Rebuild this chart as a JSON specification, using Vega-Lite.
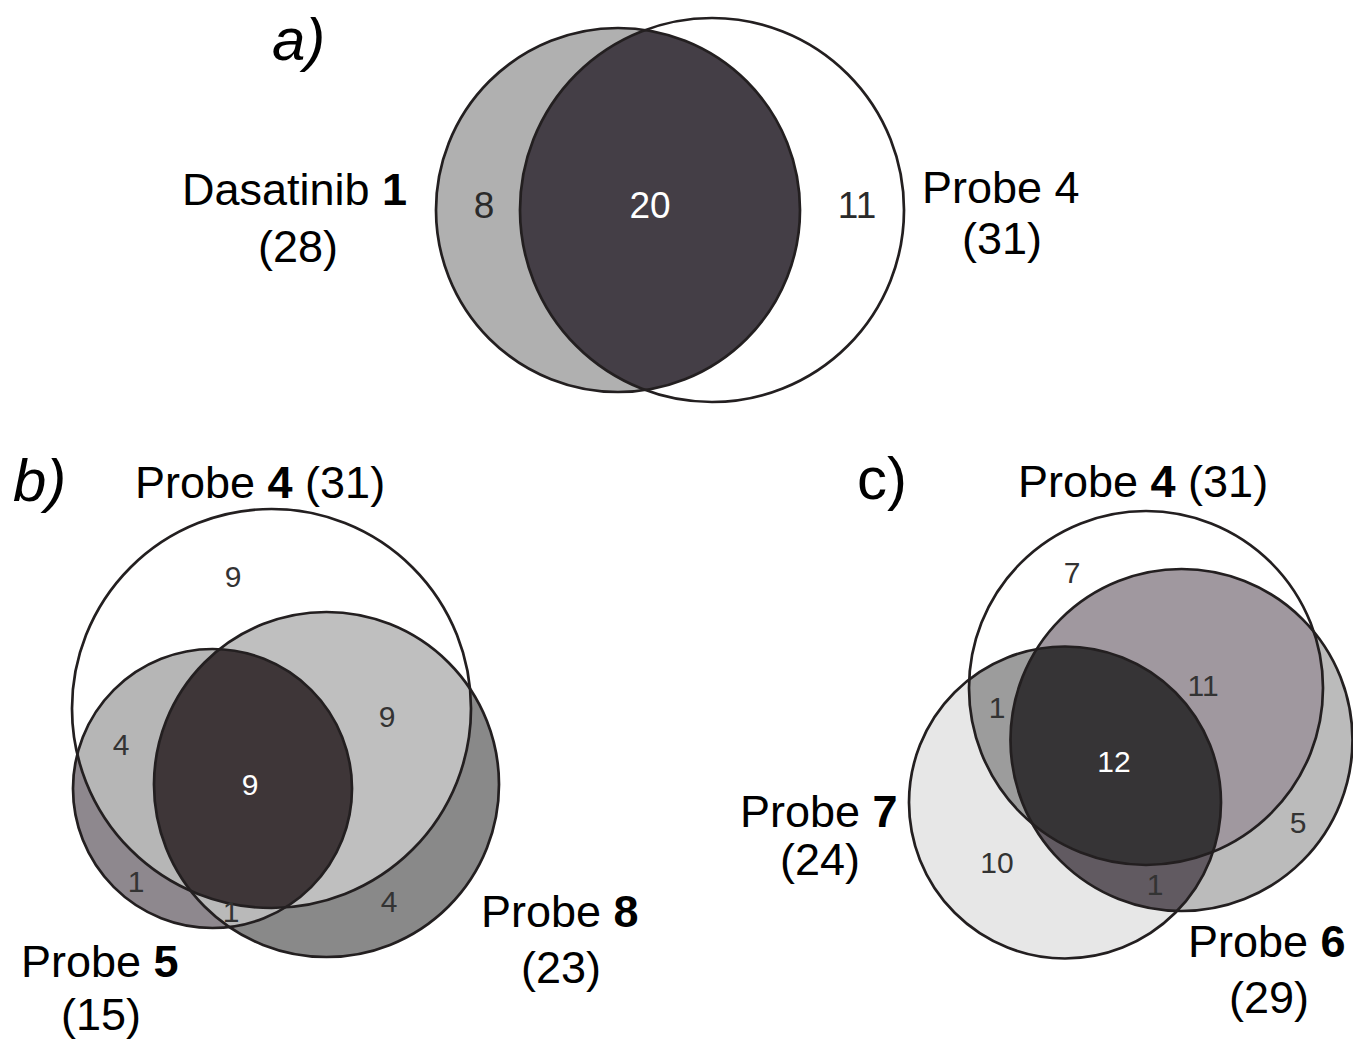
{
  "$schema": "https://vega.github.io/schema/vega-lite/v6.json",
  "width": 1353,
  "height": 1042,
  "padding": 0,
  "autosize": {"type": "none"},
  "background": "white",
  "config": {"view": {"stroke": null}},
  "datasets": {
    "circles": [
      {"panel": "a", "key": "a1", "set": "Dasatinib 1", "x": 618, "y": 210, "d": 364},
      {"panel": "a", "key": "a2", "set": "Probe 4", "x": 712, "y": 210, "d": 384},
      {"panel": "b", "key": "b4", "set": "Probe 4", "x": 271.5, "y": 708.5, "d": 399},
      {"panel": "b", "key": "b5", "set": "Probe 5", "x": 212.5, "y": 788.5, "d": 279},
      {"panel": "b", "key": "b8", "set": "Probe 8", "x": 326.5, "y": 784.5, "d": 345},
      {"panel": "c", "key": "c4", "set": "Probe 4", "x": 1146, "y": 688, "d": 354},
      {"panel": "c", "key": "c6", "set": "Probe 6", "x": 1181.5, "y": 740, "d": 342},
      {"panel": "c", "key": "c7", "set": "Probe 7", "x": 1065, "y": 802.5, "d": 312}
    ],
    "counts": [
      {"panel": "a", "region": "1 only", "n": 8, "x": 484, "y": 218},
      {"panel": "a", "region": "1∩4", "n": 20, "x": 650, "y": 218},
      {"panel": "a", "region": "4 only", "n": 11, "x": 857, "y": 218},
      {"panel": "b", "region": "4 only", "n": 9, "x": 233, "y": 587},
      {"panel": "b", "region": "4∩5", "n": 4, "x": 121, "y": 755},
      {"panel": "b", "region": "4∩8", "n": 9, "x": 387, "y": 727},
      {"panel": "b", "region": "4∩5∩8", "n": 9, "x": 250, "y": 795},
      {"panel": "b", "region": "5 only", "n": 1, "x": 136, "y": 892},
      {"panel": "b", "region": "5∩8", "n": 1, "x": 231, "y": 922},
      {"panel": "b", "region": "8 only", "n": 4, "x": 389, "y": 912},
      {"panel": "c", "region": "4 only", "n": 7, "x": 1072, "y": 583},
      {"panel": "c", "region": "4∩6", "n": 11, "x": 1203, "y": 696},
      {"panel": "c", "region": "4∩7", "n": 1, "x": 997, "y": 718},
      {"panel": "c", "region": "4∩6∩7", "n": 12, "x": 1114, "y": 772},
      {"panel": "c", "region": "6 only", "n": 5, "x": 1298, "y": 833},
      {"panel": "c", "region": "7 only", "n": 10, "x": 997, "y": 873},
      {"panel": "c", "region": "6∩7", "n": 1, "x": 1155, "y": 895}
    ],
    "labels": [
      {"panel": "a", "part": "letter", "text": "a)", "x": 272, "y": 60},
      {"panel": "b", "part": "letter", "text": "b)", "x": 13, "y": 501},
      {"panel": "c", "part": "letter", "text": "c)", "x": 857, "y": 499},
      {"panel": "a", "part": "name", "text": "Dasatinib", "x": 182, "y": 205},
      {"panel": "a", "part": "id", "text": "1", "x": 382.1, "y": 205},
      {"panel": "a", "part": "total", "text": "(28)", "x": 298, "y": 262},
      {"panel": "a", "part": "name", "text": "Probe 4", "x": 922, "y": 203},
      {"panel": "a", "part": "total", "text": "(31)", "x": 1002, "y": 254},
      {"panel": "b", "part": "name", "text": "Probe", "x": 135, "y": 498},
      {"panel": "b", "part": "id", "text": "4", "x": 267.6, "y": 498},
      {"panel": "b", "part": "name", "text": "(31)", "x": 305.1, "y": 498},
      {"panel": "b", "part": "name", "text": "Probe", "x": 481, "y": 927},
      {"panel": "b", "part": "id", "text": "8", "x": 613.6, "y": 927},
      {"panel": "b", "part": "total", "text": "(23)", "x": 561, "y": 983},
      {"panel": "b", "part": "name", "text": "Probe", "x": 21, "y": 977},
      {"panel": "b", "part": "id", "text": "5", "x": 153.6, "y": 977},
      {"panel": "b", "part": "total", "text": "(15)", "x": 101, "y": 1030},
      {"panel": "c", "part": "name", "text": "Probe", "x": 1018, "y": 497},
      {"panel": "c", "part": "id", "text": "4", "x": 1150.6, "y": 497},
      {"panel": "c", "part": "name", "text": "(31)", "x": 1188.1, "y": 497},
      {"panel": "c", "part": "name", "text": "Probe", "x": 740, "y": 827},
      {"panel": "c", "part": "id", "text": "7", "x": 872.6, "y": 827},
      {"panel": "c", "part": "total", "text": "(24)", "x": 820, "y": 875},
      {"panel": "c", "part": "name", "text": "Probe", "x": 1188, "y": 957},
      {"panel": "c", "part": "id", "text": "6", "x": 1320.6, "y": 957},
      {"panel": "c", "part": "total", "text": "(29)", "x": 1269, "y": 1013}
    ]
  },
  "encoding": {
    "x": {"field": "x", "type": "quantitative", "scale": {"domain": [0, 1353], "nice": false, "zero": false}, "axis": null},
    "y": {"field": "y", "type": "quantitative", "scale": {"domain": [0, 1042], "nice": false, "zero": false, "reverse": true}, "axis": null}
  },
  "layer": [
    {
      "data": {"name": "circles"},
      "transform": [{"filter": {"field": "key", "oneOf": ["a1", "b5", "b8", "c7", "c6"]}}],
      "mark": {"type": "point", "shape": "circle", "filled": true, "opacity": 1, "strokeWidth": 0},
      "encoding": {
        "size": {"field": "d", "type": "quantitative", "scale": {"type": "pow", "exponent": 2, "domain": [0, 1000], "range": [0, 1000000]}, "legend": null},
        "fill": {"field": "key", "type": "nominal", "scale": {"domain": ["a1", "b5", "b8", "c7", "c6"], "range": ["#b0b0b0", "#8e888e", "#898989", "#e7e7e7", "#bbbbbb"]}, "legend": null}
      }
    },
    {
      "data": {"name": "circles"},
      "transform": [{"filter": "datum.key === 'a1'"}],
      "mark": {"type": "point", "shape": "M27.1,-180A182,182,0,0,1,27.1,180A192,192,0,0,1,27.1,-180Z", "size": 4, "filled": true, "fill": "#443e46", "opacity": 1, "strokeWidth": 0}
    },
    {
      "data": {"name": "circles"},
      "transform": [{"filter": "datum.key === 'b4'"}],
      "mark": {"type": "point", "shape": "M-51.98,-59.32A139.5,139.5,0,0,1,-42.23,218.49A172.5,172.5,0,0,1,-51.98,-59.32Z", "size": 4, "filled": true, "fill": "#b9b9b9", "opacity": 1, "strokeWidth": 0}
    },
    {
      "data": {"name": "circles"},
      "transform": [{"filter": "datum.key === 'b4'"}],
      "mark": {"type": "point", "shape": "M-194.2,45.66A199.5,199.5,0,0,0,13.76,199.03A139.5,139.5,0,1,0,-194.2,45.66Z", "size": 4, "filled": true, "fill": "#b6b6b6", "opacity": 1, "strokeWidth": 0}
    },
    {
      "data": {"name": "circles"},
      "transform": [{"filter": "datum.key === 'b4'"}],
      "mark": {"type": "point", "shape": "M198.53,-19.69A199.5,199.5,0,0,1,-80.75,182.42A172.5,172.5,0,1,1,198.53,-19.69Z", "size": 4, "filled": true, "fill": "#bfbfbf", "opacity": 1, "strokeWidth": 0}
    },
    {
      "data": {"name": "circles"},
      "transform": [{"filter": "datum.key === 'b4'"}],
      "mark": {"type": "point", "shape": "M-51.98,-59.32A139.5,139.5,0,0,1,13.76,199.03A199.5,199.5,0,0,1,-80.75,182.42A172.5,172.5,0,0,1,-51.98,-59.32Z", "size": 4, "filled": true, "fill": "#3e3638", "opacity": 1, "strokeWidth": 0}
    },
    {
      "data": {"name": "circles"},
      "transform": [{"filter": "datum.key === 'c4'"}],
      "mark": {"type": "point", "shape": "M31.15,222.94A171,171,0,0,1,-109.33,-38.9A156,156,0,0,1,31.15,222.94Z", "size": 4, "filled": true, "fill": "#615a61", "opacity": 1, "strokeWidth": 0}
    },
    {
      "data": {"name": "circles"},
      "transform": [{"filter": "datum.key === 'c4'"}],
      "mark": {"type": "point", "shape": "M67,163.84A177,177,0,0,1,-176.8,-8.62A156,156,0,0,1,67,163.84Z", "size": 4, "filled": true, "fill": "#9c9c9c", "opacity": 1, "strokeWidth": 0}
    },
    {
      "data": {"name": "circles"},
      "transform": [{"filter": "datum.key === 'c4'"}],
      "mark": {"type": "point", "shape": "M167.79,-56.35A177,177,0,0,1,-113.59,135.74A171,171,0,0,1,167.79,-56.35Z", "size": 4, "filled": true, "fill": "#a0989f", "opacity": 1, "strokeWidth": 0}
    },
    {
      "data": {"name": "circles"},
      "transform": [{"filter": "datum.key === 'c4'"}],
      "mark": {"type": "point", "shape": "M-109.33,-38.9A156,156,0,0,1,67,163.84A177,177,0,0,1,-113.59,135.74A171,171,0,0,1,-109.33,-38.9Z", "size": 4, "filled": true, "fill": "#363436", "opacity": 1, "strokeWidth": 0}
    },
    {
      "data": {"name": "circles"},
      "mark": {"type": "point", "shape": "circle", "filled": false, "stroke": "#231f20", "strokeWidth": 2.7, "opacity": 1},
      "encoding": {
        "size": {"field": "d", "type": "quantitative", "scale": {"type": "pow", "exponent": 2, "domain": [0, 1000], "range": [0, 1000000]}, "legend": null}
      }
    },
    {
      "data": {"name": "counts"},
      "transform": [{"filter": "datum.panel === 'a' && datum.region !== '1∩4'"}],
      "mark": {"type": "text", "font": "Liberation Sans", "fontSize": 37, "align": "center", "baseline": "alphabetic", "color": "#2a2a2a"},
      "encoding": {"text": {"field": "n", "type": "nominal"}}
    },
    {
      "data": {"name": "counts"},
      "transform": [{"filter": "datum.panel !== 'a' && datum.region !== '4∩5∩8' && datum.region !== '4∩6∩7'"}],
      "mark": {"type": "text", "font": "Liberation Sans", "fontSize": 30, "align": "center", "baseline": "alphabetic", "color": "#333333"},
      "encoding": {"text": {"field": "n", "type": "nominal"}}
    },
    {
      "data": {"name": "counts"},
      "transform": [{"filter": "datum.region === '1∩4'"}],
      "mark": {"type": "text", "font": "Liberation Sans", "fontSize": 37, "align": "center", "baseline": "alphabetic", "color": "#ffffff"},
      "encoding": {"text": {"field": "n", "type": "nominal"}}
    },
    {
      "data": {"name": "counts"},
      "transform": [{"filter": "datum.region === '4∩5∩8' || datum.region === '4∩6∩7'"}],
      "mark": {"type": "text", "font": "Liberation Sans", "fontSize": 30, "align": "center", "baseline": "alphabetic", "color": "#ffffff"},
      "encoding": {"text": {"field": "n", "type": "nominal"}}
    },
    {
      "data": {"name": "labels"},
      "transform": [{"filter": "datum.part === 'name'"}],
      "mark": {"type": "text", "font": "Liberation Sans", "fontSize": 45, "align": "left", "baseline": "alphabetic", "color": "#000000"},
      "encoding": {"text": {"field": "text", "type": "nominal"}}
    },
    {
      "data": {"name": "labels"},
      "transform": [{"filter": "datum.part === 'id'"}],
      "mark": {"type": "text", "font": "Liberation Sans", "fontSize": 45, "fontWeight": "bold", "align": "left", "baseline": "alphabetic", "color": "#000000"},
      "encoding": {"text": {"field": "text", "type": "nominal"}}
    },
    {
      "data": {"name": "labels"},
      "transform": [{"filter": "datum.part === 'total'"}],
      "mark": {"type": "text", "font": "Liberation Sans", "fontSize": 45, "align": "center", "baseline": "alphabetic", "color": "#000000"},
      "encoding": {"text": {"field": "text", "type": "nominal"}}
    },
    {
      "data": {"name": "labels"},
      "transform": [{"filter": "datum.part === 'letter' && datum.panel !== 'c'"}],
      "mark": {"type": "text", "font": "Liberation Sans", "fontSize": 60, "fontStyle": "italic", "align": "left", "baseline": "alphabetic", "color": "#000000"},
      "encoding": {"text": {"field": "text", "type": "nominal"}}
    },
    {
      "data": {"name": "labels"},
      "transform": [{"filter": "datum.part === 'letter' && datum.panel === 'c'"}],
      "mark": {"type": "text", "font": "Liberation Sans", "fontSize": 60, "align": "left", "baseline": "alphabetic", "color": "#000000"},
      "encoding": {"text": {"field": "text", "type": "nominal"}}
    }
  ]
}
